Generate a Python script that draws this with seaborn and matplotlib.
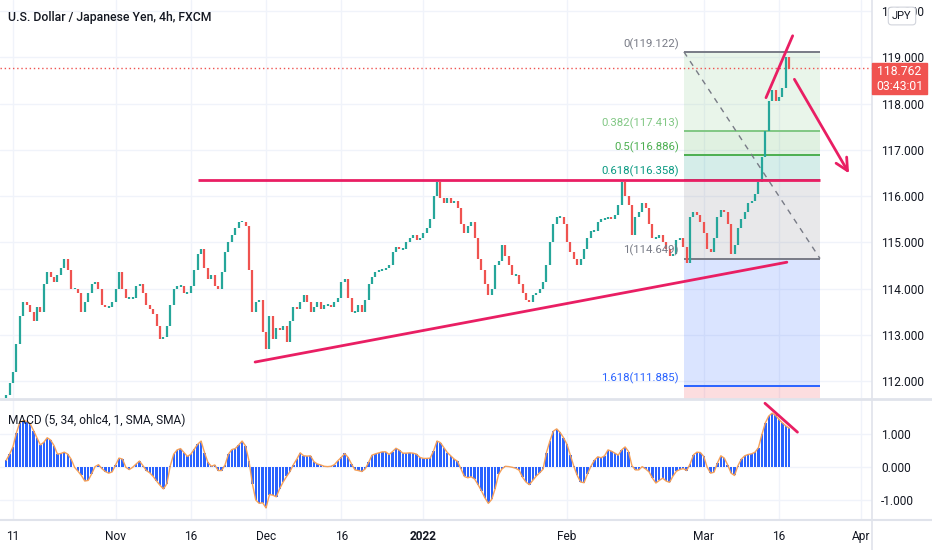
import numpy as np
import matplotlib
matplotlib.use("Agg")
import matplotlib.pyplot as plt
import seaborn as sns
from matplotlib.lines import Line2D
from matplotlib.patches import Rectangle

# ---------------- data ----------------
first_open = 111.6
closes = [
    111.7, 111.95, 112.2, 112.8, 113.4, 113.7, 113.65, 113.5, 113.3, 113.6,
    113.5, 114.1, 114.35, 114.25, 114.15, 114.3, 114.45, 114.65, 114.4, 114.0,
    114.0, 113.9, 113.5, 113.7, 113.9, 114.1, 114.15, 114.0, 113.65, 113.6,
    113.6, 113.7, 114.0, 114.35, 114.0, 113.8, 113.8, 113.8, 114.05, 114.1,
    113.9, 113.65, 113.55, 113.45, 113.2, 112.9, 112.95, 113.2, 113.65, 114.0,
    114.05, 114.05, 113.9, 113.9, 114.05, 114.4, 114.75, 114.85, 114.45, 114.2,
    114.3, 114.05, 114.0, 114.35, 114.8, 115.0, 115.15, 115.3, 115.45, 115.45,
    115.35, 114.4, 113.5, 113.7, 113.75, 113.05, 112.7, 113.4, 112.9, 113.15,
    113.1, 113.2, 112.85, 113.3, 113.6, 113.55, 113.7, 113.85, 113.7, 113.5,
    113.6, 113.7, 113.55, 113.65, 113.65, 113.6, 113.7, 113.8, 114.15, 114.2,
    113.8, 113.5, 113.5, 113.65, 113.5, 113.75, 114.1, 114.25, 114.35, 114.4,
    114.4, 114.45, 114.5, 114.8, 114.9, 114.85, 114.85, 115.0, 115.1, 115.15,
    115.05, 115.1, 115.2, 115.3, 115.5, 116.0, 116.3, 115.95, 115.85, 115.95,
    115.85, 115.9, 115.75, 115.4, 115.2, 115.35, 115.45, 115.1, 114.65, 114.4,
    114.1, 113.85, 114.0, 114.5, 114.6, 114.95, 114.7, 114.5, 114.3, 114.3,
    114.1, 113.9, 113.75, 113.7, 113.85, 113.9, 114.0, 114.15, 114.5, 115.0,
    115.4, 115.55, 115.55, 115.4, 115.0, 114.8, 114.65, 114.5, 114.65, 114.85,
    115.1, 115.25, 115.25, 115.45, 115.5, 115.5, 115.55, 115.5, 115.6, 115.8,
    116.3, 116.0, 115.8, 115.15, 115.55, 115.65, 115.85, 115.75, 115.4, 115.1,
    115.1, 115.15, 115.0, 114.85, 114.7, 114.75, 115.05, 115.1, 114.9, 114.55,
    115.55, 115.65, 115.6, 115.45, 115.2, 114.85, 114.8, 115.1, 115.55, 115.7,
    115.65, 115.4, 114.75, 114.95, 115.3, 115.5, 115.65, 115.85, 115.9, 116.05,
    116.3, 116.85, 117.4, 118.05, 118.3, 118.05, 118.15, 118.35, 119.0, 118.76,
]
macd_hist = [
    0.21, 0.4, 0.63, 1.05, 1.37, 1.42, 1.4, 1.33, 1.12, 0.9,
    0.68, 0.76, 0.9, 0.83, 0.66, 0.4, 0.42, 0.46, 0.4, 0.25,
    0.0, -0.12, -0.25, -0.42, -0.4, -0.2, 0.02, 0.08, -0.04, -0.13,
    -0.18, -0.14, 0.07, 0.28, 0.25, 0.0, -0.07, 0.0, 0.1, 0.19,
    0.05, -0.1, -0.17, -0.28, -0.42, -0.55, -0.66, -0.5, 0.05, 0.4,
    0.53, 0.57, 0.45, 0.33, 0.4, 0.55, 0.7, 0.8, 0.45, 0.15,
    0.03, 0.07, -0.1, -0.1, 0.07, 0.4, 0.54, 0.57, 0.68, 0.8,
    0.65, 0.2, -0.5, -1.0, -1.1, -1.08, -1.24, -0.83, -0.85, -0.9,
    -0.65, -0.45, -0.28, -0.13, 0.08, 0.25, 0.44, 0.35, 0.34, 0.35,
    0.17, 0.1, 0.07, 0.03, 0.02, 0.03, 0.08, 0.2, 0.3, 0.42,
    0.3, 0.1, -0.08, -0.1, -0.13, -0.05, 0.15, 0.37, 0.41, 0.44,
    0.47, 0.47, 0.39, 0.48, 0.58, 0.52, 0.43, 0.43, 0.44, 0.43,
    0.4, 0.3, 0.27, 0.27, 0.28, 0.5, 0.8, 0.75, 0.6, 0.45,
    0.35, 0.25, 0.18, -0.05, -0.28, -0.32, -0.29, -0.36, -0.53, -0.72,
    -0.93, -1.1, -0.98, -0.65, -0.22, -0.05, 0.03, 0.02, 0.0, -0.03,
    -0.09, -0.3, -0.45, -0.53, -0.4, -0.27, -0.17, -0.06, 0.45, 0.8,
    1.1, 1.17, 1.06, 0.9, 0.7, 0.37, 0.03, -0.25, -0.45, -0.47,
    -0.2, 0.03, 0.21, 0.32, 0.29, 0.35, 0.53, 0.49, 0.43, 0.37,
    0.53, 0.62, 0.48, 0.05, -0.08, -0.08, 0.02, -0.05, -0.14, -0.33,
    -0.48, -0.4, -0.33, -0.42, -0.46, -0.27, -0.12, -0.07, -0.04, -0.1,
    0.1, 0.38, 0.46, 0.45, 0.33, 0.0, -0.18, -0.15, 0.13, 0.35,
    0.28, 0.07, -0.18, -0.25, 0.05, 0.25, 0.35, 0.39, 0.41, 0.46,
    0.6, 1.0, 1.35, 1.56, 1.65, 1.58, 1.46, 1.35, 1.26, 1.19,
]
# time axis: one slot = half a trading day
tick_pos = [2, 32, 54, 76, 98, 122, 164, 204, 226, 250]
tick_labels = ["11", "Nov", "16", "Dec", "16", "2022", "Feb", "Mar", "16", "Apr"]
price_ticks = [112, 113, 114, 115, 116, 117, 118, 119, 120]
macd_ticks = [-1, 0, 1]
last_price = 118.762
countdown = "03:43:01"

fib_levels = ["0", "0.382", "0.5", "0.618", "1", "1.618", "2.618"]
fib_prices = [119.122, 117.413, 116.886, 116.358, 114.649, 111.885, 107.410]
fib_colors = ["#787b86", "#81c784", "#4caf50", "#089981", "#787b86", "#2962ff", "#f23645"]
fib_start, fib_end = 198.2, 238.0

resist_price = 116.358
resist_x = (56.1, 238.0)
trend_x, trend_y = (72.8, 228.3), (112.41, 114.57)
wedge_x, wedge_y = (222.2, 230.0), (118.13, 119.47)
arrow_x, arrow_y = (230.1, 246.9), (118.58, 116.44)
macd_div_x, macd_div_y = (221.9, 231.4), (1.95, 1.07)

# ---------------- figure ----------------
sns.set_theme(style="white")
plt.rcParams["font.family"] = ["Roboto", "DejaVu Sans"]

W, H = 932, 550
fig = plt.figure(figsize=(W / 100, H / 100), dpi=100)
fig.patch.set_facecolor("white")


def fx(px):
    return px / W


def fy(py):
    return 1 - py / H


ax = fig.add_axes([0, fy(398), fx(872), 398 / H])
ax2 = fig.add_axes([0, fy(519), fx(872), (519 - 400) / H], sharex=ax)

pink = "#e91e63"
grid_c = "#f0f3fa"
txt_c = "#131722"

n = len(closes)
pos = np.arange(n)
c = np.array(closes)
o = np.array([first_open] + closes[:-1])
lo = np.minimum(o, c)
hi = np.maximum(o, c)
small = (hi - lo) < 0.04
lo = np.where(small, lo - 0.02, lo)
hi = np.where(small, hi + 0.02, hi)
up = c >= o
ax.vlines(pos[up], lo[up], hi[up], color="#26a69a", lw=1.6, zorder=3)
ax.vlines(pos[~up], lo[~up], hi[~up], color="#ef5350", lw=1.6, zorder=3)

# fib retracement
for i in range(len(fib_prices) - 1):
    ax.fill_between([fib_start, fib_end], fib_prices[i], fib_prices[i + 1],
                    color=fib_colors[i + 1], alpha=0.17, lw=0, zorder=1)
for lvl, p, col in zip(fib_levels[:-1], fib_prices[:-1], fib_colors[:-1]):
    ax.hlines(p, fib_start, fib_end, color=col, lw=1.4, zorder=2)
    ax.text(fib_start - 1.5, p + 0.05, f"{lvl}({p:.3f})", ha="right", va="bottom",
            color=col, fontsize=8.2, zorder=6)
ax.plot([fib_start, fib_end], [fib_prices[0], fib_prices[4]], color="#787b86",
        lw=1, ls=(0, (4, 4)), zorder=2)

# drawings
ax.axhline(last_price, color="#ef5350", lw=1, ls=(0, (1, 2)), zorder=2)
ax.hlines(resist_price, *resist_x, color=pink, lw=2, zorder=5)
ax.plot(trend_x, trend_y, color=pink, lw=2, zorder=5)
ax.plot(wedge_x, wedge_y, color=pink, lw=2, zorder=5)
ax.annotate("", xy=(arrow_x[1], arrow_y[1]), xytext=(arrow_x[0], arrow_y[0]),
            arrowprops=dict(arrowstyle="->", color=pink, lw=2, mutation_scale=22),
            zorder=5)

# MACD panel
ax2.bar(pos, macd_hist, width=0.7, color="#2962ff", linewidth=0, zorder=2)
sns.lineplot(x=pos, y=macd_hist, ax=ax2, color="#f5a15a", lw=1, zorder=3)
ax2.plot(macd_div_x, macd_div_y, color=pink, lw=2, zorder=5)

# axes styling
ax.set_xlim(-1.8, 253.2)
ax.set_ylim(111.632, 120.244)
ax2.set_ylim(-1.576, 2.05)
for a in (ax, ax2):
    for s in a.spines.values():
        s.set_visible(False)
    a.set_facecolor("none")
    a.yaxis.tick_right()
    a.set_xticks(tick_pos)
    a.grid(True, color=grid_c, lw=1, zorder=0)
    a.set_axisbelow(True)
    a.tick_params(axis="both", length=0, labelsize=8.6, labelcolor=txt_c)
    a.tick_params(axis="y", pad=6.5)
    a.set_xlabel("")
    a.set_ylabel("")
ax.set_yticks(price_ticks)
ax.set_yticklabels([f"{v:.3f}" for v in price_ticks])
ax2.set_yticks(macd_ticks)
ax2.set_yticklabels([f"{v:.3f}" for v in macd_ticks])
ax.tick_params(axis="x", labelbottom=False)
ax2.set_xticklabels(tick_labels)
ax2.tick_params(axis="x", pad=8)
for lab in ax2.get_xticklabels():
    if lab.get_text() == "2022":
        lab.set_fontweight("bold")

# separators
sep = "#e0e3eb"
fig.add_artist(Line2D([0, 1], [fy(399), fy(399)], transform=fig.transFigure, color=sep, lw=2))
fig.add_artist(Line2D([0, 1], [fy(519.5), fy(519.5)], transform=fig.transFigure, color=sep, lw=1.5))
fig.add_artist(Line2D([fx(872), fx(872)], [0, 1], transform=fig.transFigure, color=sep, lw=1.2))

# texts
fig.text(fx(8), fy(17), "U.S. Dollar / Japanese Yen, 4h, FXCM", ha="left", va="center",
         fontsize=8.8, color=txt_c, fontweight="medium")
fig.text(fx(8), fy(420), "MACD (5, 34, ohlc4, 1, SMA, SMA)", ha="left", va="center",
         fontsize=8.6, color=txt_c)

# last price badge
fig.add_artist(Rectangle((fx(872), fy(94)), fx(55), 31 / H, transform=fig.transFigure,
                         color="#f05350", zorder=5))
fig.text(fx(899.5), fy(71), f"{last_price:.3f}", ha="center", va="center",
         color="white", fontsize=8.8, zorder=6)
fig.text(fx(899.5), fy(86), countdown, ha="center", va="center",
         color="white", fontsize=8.8, zorder=6)
fig.text(fx(902), fy(16), "JPY", ha="center", va="center", fontsize=8, color=txt_c,
         zorder=6, bbox=dict(boxstyle="round,pad=0.35,rounding_size=0.3", fc="white",
                             ec="#d1d4dc", lw=0.8))

fig.savefig("out.png", dpi=100, facecolor="white")
